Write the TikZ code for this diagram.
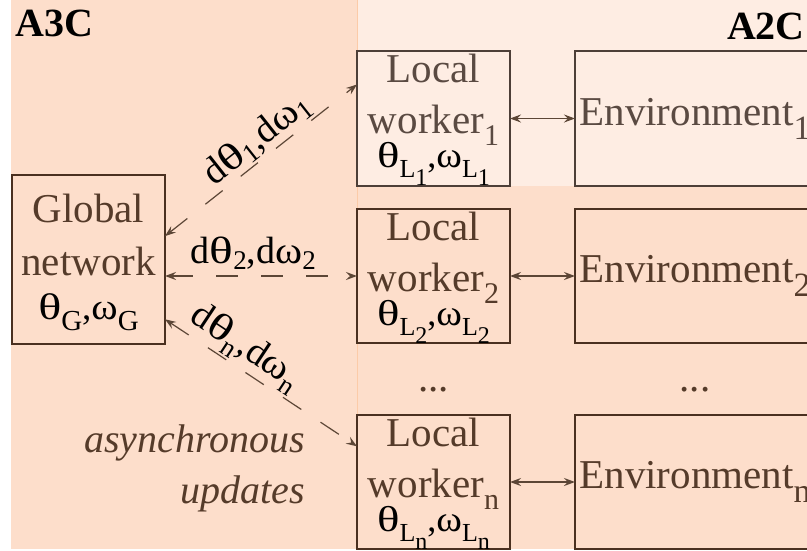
\documentclass[tikz,border=0pt]{standalone}
\usepackage{graphicx}
\usepackage{fontspec}
\setmainfont{Liberation Serif}
\usetikzlibrary{arrows.meta}
\definecolor{peach}{HTML}{FDDECB}
\definecolor{lightpeach}{HTML}{FEEDE3}
\definecolor{edgeorange}{HTML}{FCCBA8}
\definecolor{brownA}{HTML}{553B2A}
\definecolor{brownB}{HTML}{5A4A42}
\definecolor{lineA}{HTML}{4A3020}
\definecolor{lineB}{HTML}{4D3F38}
\definecolor{arrowc}{HTML}{5C4636}
\newcommand\lsub[3]{\raisebox{-#1}{\fontsize{#2}{#2}\selectfont #3}}
\newcommand\thet{\scalebox{1.3}[1]{θ}}
\newcommand\omeg{\scalebox{1.08}[1]{ω}}
\newcommand\boxfont{\fontsize{41}{51}\selectfont}
\newcommand\globfont{\fontsize{41}{53}\selectfont}
\newcommand\lblfont{\fontsize{38}{38}\selectfont}
\begin{document}
\begin{tikzpicture}[x=1pt,y=-1pt,
  box/.style={draw=lineA, line width=1.8pt, inner sep=0pt, outer sep=0pt,
    minimum width=153pt, minimum height=134pt},
  boxlight/.style={box, draw=lineB},
  envbox/.style={box, minimum width=240pt, font=\boxfont, text=brownA},
  txt/.style={inner sep=0pt, outer sep=0pt, align=center, font=\boxfont, text=brownA, anchor=north},
  darr/.style={arrowc, line width=1.2pt, dash pattern=on 22pt off 23pt,
    {Stealth[length=11pt,width=8pt,inset=4pt]}-{Stealth[length=11pt,width=8pt,inset=4pt]}},
  sarr/.style={arrowc, line width=1.2pt,
    {Stealth[length=11pt,width=8pt,inset=4pt]}-{Stealth[length=11pt,width=8pt,inset=4pt]}},
  lbl/.style={font=\lblfont, text=black, inner sep=2pt},
  title/.style={font=\fontsize{40}{40}\selectfont\bfseries, text=black, inner sep=0pt}
]
\clip (0,0) rectangle (807,550);
\fill[white] (0,0) rectangle (807,550);
\fill[peach] (11,0) rectangle (807,549);
\fill[lightpeach] (357,0) rectangle (807,186);
\draw[edgeorange, line width=0.8pt] (357,0) -- (357,549);

\node[title, anchor=base west] (a3c) at (15,36) {A3C};
\node[title, anchor=base east] (a2c) at (805,39) {A2C};

% boxes
\node[box, minimum height=169pt] (g) at (88.5,259.5) {};
\node[boxlight, minimum height=135pt] (w1) at (433.5,118.5) {};
\node[box] (w2) at (433.5,276) {};
\node[box] (wn) at (433.5,482) {};
\node[envbox, draw=lineB, text=brownB, minimum height=135pt] (e1) at (695,118.5) {\raisebox{-2.5pt}{Environment\lsub{14pt}{34}{1}}};
\node[envbox] (e2) at (695,276) {\raisebox{-2.5pt}{Environment\lsub{14pt}{34}{2}}};
\node[envbox] (en) at (695,482) {\raisebox{-2.5pt}{Environment\lsub{14pt}{34}{n}}};

% box texts
\node[txt, font=\globfont] (gt) at ([yshift=-19.5pt]g.north)
  {Global\\network\\[-9pt]{\color{black}\fontsize{37}{37}\selectfont \thet\lsub{11pt}{29}{G},\omeg\lsub{11pt}{29}{G}}};
\node[txt, text=brownB] (w1t) at ([yshift=-3pt]w1.north)
  {Local\\worker\lsub{12pt}{30}{1}\\[-17pt]{\color{black}\fontsize{36}{36}\selectfont \thet\lsub{10pt}{26}{L\lsub{8pt}{24}{1}},\omeg\lsub{10pt}{26}{L\lsub{8pt}{24}{1}}}};
\node[txt] (w2t) at ([yshift=-3pt]w2.north)
  {Local\\worker\lsub{12pt}{30}{2}\\[-17pt]{\color{black}\fontsize{36}{36}\selectfont \thet\lsub{10pt}{26}{L\lsub{8pt}{24}{2}},\omeg\lsub{10pt}{26}{L\lsub{8pt}{24}{2}}}};
\node[txt] (wnt) at ([yshift=-3pt]wn.north)
  {Local\\worker\lsub{12pt}{30}{n}\\[-17pt]{\color{black}\fontsize{36}{36}\selectfont \thet\lsub{10pt}{26}{L\lsub{8pt}{24}{n}},\omeg\lsub{10pt}{26}{L\lsub{8pt}{24}{n}}}};

% dots
\node[font=\boxfont, text=brownA, anchor=base, inner sep=0pt] (dw) at (433.5,391) {...};
\node[font=\boxfont, text=brownA, anchor=base, inner sep=0pt] (de) at (695,391) {...};

% worker <-> environment
\draw[sarr] (w1.east) -- (e1.west);
\draw[sarr] (w2.east) -- (e2.west);
\draw[sarr] (wn.east) -- (en.west);

% global <-> workers
\draw[darr] (g.17) -- node[lbl, sloped, above, pos=0.54] (l1) {d\thet\lsub{6pt}{27}{1},d\omeg\lsub{6pt}{27}{1}} (w1.156);
\draw[darr] (g.east |- w2.west) -- node[lbl, above, pos=0.46, inner sep=6pt] (l2) {d\thet\lsub{6pt}{27}{2},d\omeg\lsub{6pt}{27}{2}} (w2.west);
\draw[darr] (g.-38) -- node[lbl, sloped, above, pos=0.36] (ln) {d\thet\lsub{9pt}{27}{n},d\omeg\lsub{9pt}{27}{n}} (wn.155);

% note
\node[font=\fontsize{40}{51}\selectfont\itshape, text=brownA, align=right, anchor=north east, inner sep=0pt] (async) at (305,425) {asynchronous\\updates};
\end{tikzpicture}
\end{document}
